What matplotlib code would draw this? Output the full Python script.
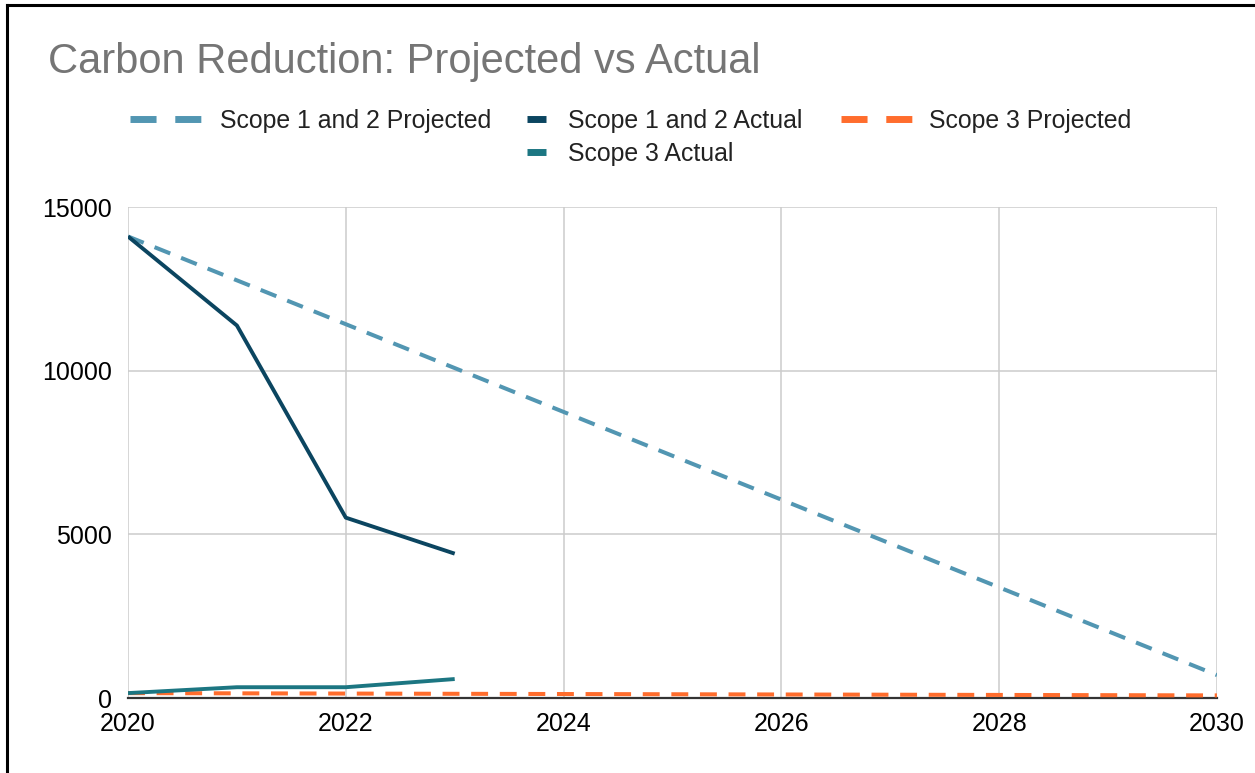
import matplotlib
matplotlib.use('Agg')
import matplotlib.pyplot as plt
from matplotlib.lines import Line2D

plt.rcParams.update({
    'font.family': ['Liberation Sans', 'DejaVu Sans'],
})

# ---------------------------------------------------------------------------
# Donnees (tCO2e)
# ---------------------------------------------------------------------------
years = [2020, 2021, 2022, 2023, 2024, 2025, 2026, 2027, 2028, 2029, 2030]
scope12_projected = [14100, 12760, 11420, 10080, 8740, 7400, 6060, 4720, 3380, 2040, 700]
scope3_projected = [150, 143, 136, 129, 122, 115, 108, 101, 94, 87, 80]

actual_years = [2020, 2021, 2022, 2023]
scope12_actual = [14100, 11380, 5510, 4410]
scope3_actual = [150, 330, 330, 580]

x_ticks = [2020, 2022, 2024, 2026, 2028, 2030]
y_ticks = [0, 5000, 10000, 15000]

TITLE = "Carbon Reduction: Projected vs Actual"

C_S12P = '#5296b2'
C_S12A = '#0b4560'
C_S3P = '#ff6d2d'
C_S3A = '#1c7682'

# ---------------------------------------------------------------------------
# Figure
# ---------------------------------------------------------------------------
fig = plt.figure(figsize=(12.55, 7.73), dpi=100)
ax = fig.add_axes([0.102, 0.097, 0.8677, 0.6352])

dash = (4.2, 2.9)
ax.plot(years, scope12_projected, color=C_S12P, lw=2.9, dashes=dash,
        dash_capstyle='butt', zorder=3)
ax.plot(actual_years, scope12_actual, color=C_S12A, lw=2.8,
        solid_joinstyle='round', solid_capstyle='butt', zorder=4)
ax.plot(years, scope3_projected, color=C_S3P, lw=2.9, dashes=dash,
        dash_capstyle='butt', zorder=5)
ax.plot(actual_years, scope3_actual, color=C_S3A, lw=2.8,
        solid_joinstyle='round', solid_capstyle='butt', zorder=6)

ax.set_xlim(2020, 2030)
ax.set_ylim(0, 15000)
ax.set_xticks(x_ticks)
ax.set_xticklabels([str(x) for x in x_ticks])
ax.set_yticks(y_ticks)
ax.set_yticklabels([str(y) for y in y_ticks])
ax.tick_params(axis='both', length=0, labelsize=18, colors='black')
ax.tick_params(axis='y', pad=11.5)
ax.tick_params(axis='x', pad=10)

ax.grid(True, color='#cccccc', lw=1.1, zorder=0)
ax.set_axisbelow(True)
for side in ('left', 'right', 'top'):
    ax.spines[side].set_visible(False)
ax.spines['bottom'].set_color('#333333')
ax.spines['bottom'].set_linewidth(1.6)
ax.spines['bottom'].set_zorder(2)

# Titre
fig.text(48 / 1255, 1 - 62 / 773, TITLE, fontsize=30, color='#757575',
         ha='left', va='center')

# ---------------------------------------------------------------------------
# Legende : une entree par bloc, placee comme dans Google Sheets
# ---------------------------------------------------------------------------
LEG_FS = 17.9
leg_dash = (3.75, 2.7)
entries = [
    (Line2D([], [], color=C_S12P, lw=5, dashes=leg_dash, dash_capstyle='butt'),
     "Scope 1 and 2 Projected", 130, 121, 2.85, 0.75),
    (Line2D([], [], color=C_S12A, lw=5, solid_capstyle='butt'),
     "Scope 1 and 2 Actual", 527, 121, 0.76, 0.88),
    (Line2D([], [], color=C_S3P, lw=5, dashes=leg_dash, dash_capstyle='butt'),
     "Scope 3 Projected", 841, 121, 2.85, 0.70),
    (Line2D([], [], color=C_S3A, lw=5, solid_capstyle='butt'),
     "Scope 3 Actual", 527, 154, 0.76, 0.88),
]
for handle, label, px, py, hlen, hpad in entries:
    leg = fig.legend([handle], [label], loc='center left',
                     bbox_to_anchor=(px / 1255, 1 - py / 773),
                     frameon=False, fontsize=LEG_FS, borderpad=0,
                     borderaxespad=0, handlelength=hlen, handletextpad=hpad)
    for t in leg.get_texts():
        t.set_color('#222222')

# Cadre (bords gauche et haut)
fig.add_artist(Line2D([6.5 / 1255, 6.5 / 1255], [0, 1 - 5 / 773],
                      transform=fig.transFigure, color='black', lw=2.2))
fig.add_artist(Line2D([6.5 / 1255, 1], [1 - 5 / 773, 1 - 5 / 773],
                      transform=fig.transFigure, color='black', lw=2.2))

fig.savefig('out.png', dpi=100)
